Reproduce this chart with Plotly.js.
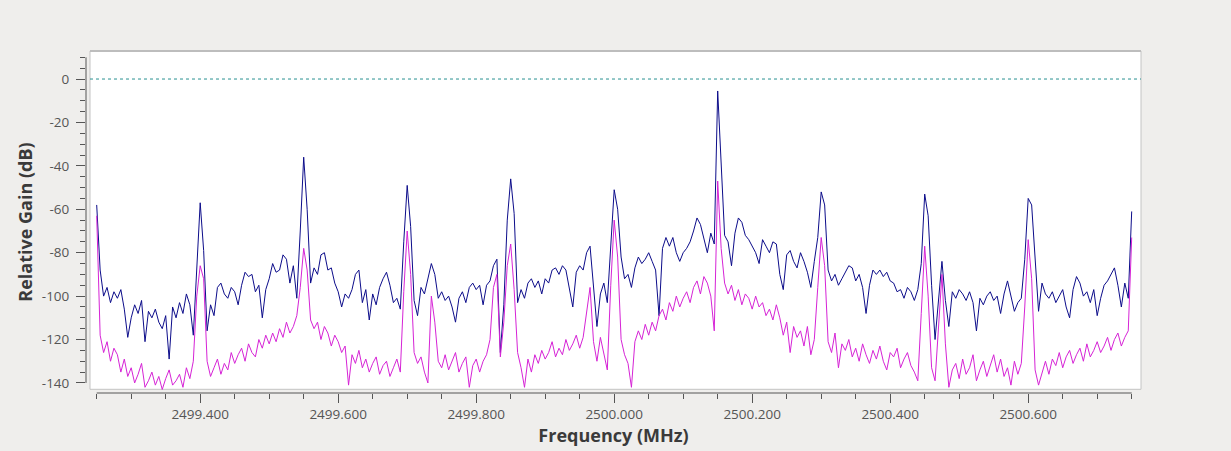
<!DOCTYPE html>
<html>
<head>
<meta charset="utf-8">
<script src="https://cdn.plot.ly/plotly-3.0.1.min.js"></script>
<style>
  html, body { margin: 0; padding: 0; background: #efeeec; }
  #chart { width: 1231px; height: 451px; }
</style>
</head>
<body>
<div id="chart"></div>
<script>
// Frequency axis (MHz): first sample and spacing between samples
const freqStart = 2499.25;
const freqStep = 0.005;

// Tick labels
const xTickVals = [2499.4, 2499.6, 2499.8, 2500.0, 2500.2, 2500.4, 2500.6];
const xTickText = ["2499.400", "2499.600", "2499.800", "2500.000", "2500.200", "2500.400", "2500.600"];
const yTickVals = [0, -20, -40, -60, -80, -100, -120, -140];
const yTickText = ["0", "-20", "-40", "-60", "-80", "-100", "-120", "-140"];

// Reference level (dB)
const refLevel = 0;

// Series 1 (blue), relative gain in dB
const blueGain = [
  -58, -88, -100, -96, -103, -98, -101, -97, -106, -119,
  -110, -104, -108, -102, -121, -107, -110, -106, -112, -115,
  -109, -129, -105, -110, -103, -108, -99, -104, -118, -85,
  -57, -79, -116, -104, -109, -96, -94, -99, -101, -96,
  -98, -104, -95, -89, -91, -90, -98, -95, -110, -97,
  -92, -85, -89, -88, -81, -83, -94, -86, -101, -70,
  -36, -60, -94, -87, -90, -81, -80, -88, -87, -94,
  -98, -105, -99, -101, -97, -90, -88, -103, -97, -111,
  -99, -104, -96, -92, -89, -95, -103, -101, -106, -75,
  -49, -68, -102, -109, -96, -99, -92, -85, -90, -101,
  -98, -102, -100, -105, -112, -101, -98, -103, -96, -94,
  -97, -95, -104, -95, -93, -86, -83, -126, -104, -65,
  -46, -62, -103, -97, -101, -94, -92, -96, -93, -99,
  -92, -94, -88, -87, -90, -86, -88, -96, -105, -89,
  -86, -88, -80, -77, -95, -114, -99, -94, -103, -75,
  -51, -60, -82, -92, -90, -96, -87, -82, -85, -83,
  -80, -84, -88, -109, -78, -73, -77, -73, -80, -84,
  -80, -78, -75, -70, -64, -67, -73, -80, -71, -76,
  -5.5, -40, -72, -75, -86, -71, -64, -66, -72, -74,
  -77, -80, -85, -74, -77, -80, -75, -76, -90, -97,
  -81, -79, -84, -87, -80, -84, -89, -96, -84, -73,
  -52, -58, -88, -93, -90, -95, -92, -89, -86, -87,
  -93, -90, -96, -108, -95, -88, -90, -88, -91, -89,
  -93, -94, -98, -97, -101, -96, -98, -102, -97, -85,
  -53, -63, -95, -120, -100, -84, -102, -114, -98, -101,
  -97, -99, -102, -98, -103, -116, -101, -104, -100, -98,
  -102, -100, -108, -99, -93, -100, -107, -103, -101, -83,
  -55, -58, -85, -107, -94, -99, -101, -98, -103, -100,
  -97, -105, -110, -97, -91, -94, -100, -98, -103, -97,
  -109, -101, -95, -93, -90, -87, -95, -105, -94, -101,
  -61
];

// Series 2 (magenta), relative gain in dB
const magentaGain = [
  -63, -118, -126, -121, -130, -124, -127, -135, -129, -137,
  -133, -140, -136, -131, -142, -139, -135, -141, -137, -143,
  -138, -134, -141, -139, -136, -142, -133, -138, -130, -100,
  -86, -92, -130, -137, -133, -129, -136, -131, -134, -126,
  -131, -127, -124, -130, -122, -126, -128, -120, -124, -118,
  -122, -117, -121, -115, -119, -112, -117, -114, -109, -96,
  -78, -88, -111, -115, -112, -120, -114, -117, -123, -118,
  -121, -126, -123, -141, -127, -131, -125, -133, -129, -135,
  -131, -128, -136, -132, -130, -137, -133, -129, -135, -98,
  -70, -90, -126, -131, -128, -135, -140, -100, -112, -130,
  -133, -127, -134, -130, -126, -135, -131, -128, -142, -132,
  -129, -135, -130, -127, -120, -96, -90, -128, -112, -86,
  -76, -97, -126, -133, -142, -129, -135, -127, -131, -125,
  -129, -126, -121, -128, -124, -127, -120, -125, -122, -118,
  -124, -119, -108, -96, -121, -130, -119, -126, -134, -95,
  -65, -82, -120, -127, -131, -142, -121, -116, -120, -113,
  -118, -112, -116, -109, -106, -111, -103, -107, -100, -105,
  -101, -98, -103, -96, -93, -99, -91, -94, -100, -116,
  -47, -78, -94, -99, -95, -102, -97, -104, -99, -101,
  -106, -100, -105, -103, -109, -106, -111, -104, -110, -118,
  -112, -126, -114, -119, -116, -123, -114, -127, -120, -96,
  -73, -86, -121, -126, -117, -133, -122, -125, -120, -128,
  -124, -130, -122, -127, -131, -125, -129, -123, -130, -134,
  -126, -128, -124, -133, -129, -126, -132, -135, -139, -108,
  -77, -100, -133, -139, -112, -90, -122, -142, -134, -131,
  -138, -129, -136, -133, -127, -139, -134, -130, -137, -132,
  -127, -135, -129, -137, -133, -141, -130, -136, -131, -105,
  -74, -92, -134, -141, -135, -130, -136, -129, -132, -126,
  -133, -128, -125, -131, -127, -124, -130, -122, -128, -125,
  -121, -126, -123, -119, -125, -120, -117, -123, -119, -116,
  -73
];

const dataStart = freqStart;
const dataEnd = freqStart + freqStep * (blueGain.length - 1);

const traces = [
  {
    type: "scatter", mode: "lines",
    x0: freqStart, dx: freqStep, y: blueGain,
    line: { color: "#0c0c8a", width: 1 },
    hoverinfo: "skip", showlegend: false
  },
  {
    type: "scatter", mode: "lines",
    x0: freqStart, dx: freqStep, y: magentaGain,
    line: { color: "#d623d6", width: 1 },
    hoverinfo: "skip", showlegend: false
  }
];

const tickFont = { family: "Open Sans, Noto Sans, sans-serif", size: 13.5, color: "#555555" };
const titleFont = { family: "Open Sans, Noto Sans, sans-serif", size: 18, color: "#3a3a3a", weight: "bold" };

const layout = {
  width: 1231, height: 451,
  margin: { l: 86, r: 90, t: 51, b: 58.3, pad: 0 },
  paper_bgcolor: "#efeeec",
  plot_bgcolor: "#efeeec",
  showlegend: false,
  xaxis: {
    range: [2499.23449, 2500.76348],
    tickmode: "array", tickvals: xTickVals, ticktext: xTickText,
    ticks: "outside", ticklen: 9, tickwidth: 1, tickcolor: "#555555",
    minor: { dtick: 0.05, tick0: 2499.25, ticks: "outside", ticklen: 5, tickwidth: 1, tickcolor: "#555555", showgrid: false },
    showgrid: false, zeroline: false, showline: false,
    tickfont: tickFont,
    title: { text: "Frequency (MHz)", font: titleFont, standoff: 2 },
    fixedrange: true
  },
  yaxis: {
    range: [-144.63, 12.91],
    tickmode: "array", tickvals: yTickVals, ticktext: yTickText,
    ticks: "outside", ticklen: 9, tickwidth: 1, tickcolor: "#555555",
    ticklabelstandoff: 4,
    minor: { dtick: 5, tick0: 0, ticks: "outside", ticklen: 5, tickwidth: 1, tickcolor: "#555555", showgrid: false },
    showgrid: false, zeroline: false, showline: false,
    tickfont: tickFont,
    title: { text: "Relative Gain (dB)", font: titleFont, standoff: 4 },
    fixedrange: true
  },
  shapes: [
    // white canvas with frame
    { type: "rect", xref: "paper", yref: "paper", x0: 0.0038, x1: 1, y0: 0.0108, y1: 1,
      fillcolor: "#ffffff", line: { color: "#c4c4c4", width: 1 }, layer: "below" },
    // top frame edge (thicker)
    { type: "line", xref: "paper", yref: "paper", x0: 0.0038, x1: 1, y0: 1, y1: 1,
      line: { color: "#bdbdbd", width: 2 }, layer: "below" },
    // reference level dotted line
    { type: "line", xref: "paper", yref: "y", x0: 0.0038, x1: 1, y0: refLevel, y1: refLevel,
      line: { color: "#2a9292", width: 1, dash: "dot" }, layer: "below" },
    // x axis backbone
    { type: "line", xref: "x", yref: "paper", x0: dataStart, x1: dataEnd, y0: 0, y1: 0,
      line: { color: "#555555", width: 1 } },
    // y axis backbone
    { type: "line", xref: "paper", yref: "y", x0: 0, x1: 0, y0: 10, y1: -140,
      line: { color: "#555555", width: 1 } }
  ]
};

Plotly.newPlot("chart", traces, layout, { staticPlot: true, displayModeBar: false });
</script>
</body>
</html>
